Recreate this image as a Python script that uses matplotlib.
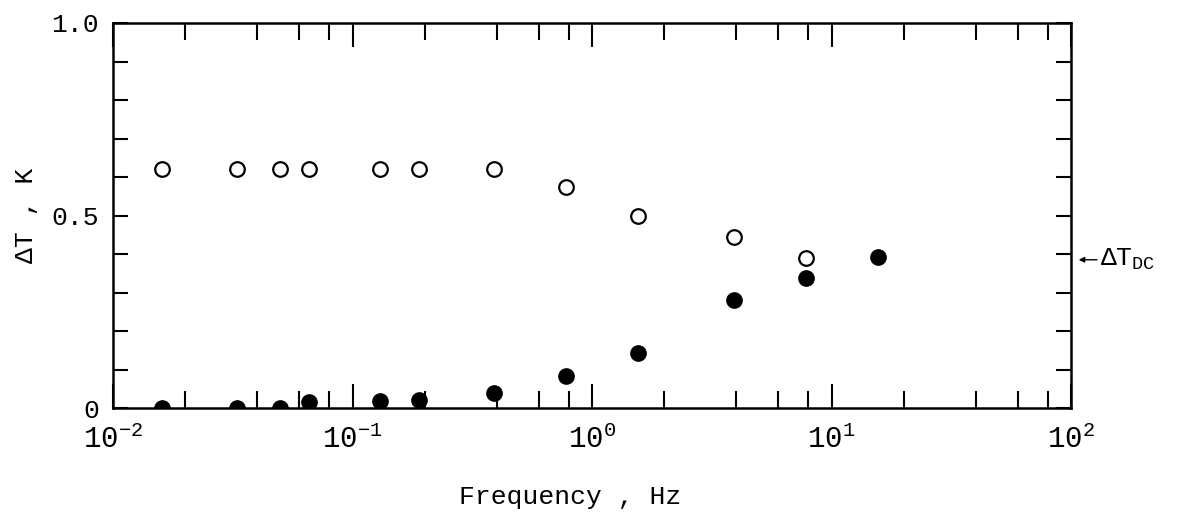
import matplotlib
matplotlib.use("Agg")
import matplotlib.pyplot as plt
from matplotlib.ticker import LogLocator, FixedLocator, NullFormatter, FixedFormatter

plt.rcParams['font.family'] = ['Liberation Mono', 'DejaVu Sans']
plt.rcParams['mathtext.fontset'] = 'custom'
plt.rcParams['mathtext.rm'] = 'Liberation Mono'
plt.rcParams['mathtext.it'] = 'Liberation Mono'

# frequencies (Hz)
freq = [0.016, 0.033, 0.05, 0.066, 0.13, 0.19, 0.39, 0.78, 1.56, 3.9, 7.8, 15.6]
# open circles (no value at the last frequency)
dT_open = [0.62, 0.62, 0.62, 0.62, 0.62, 0.62, 0.62, 0.575, 0.50, 0.445, 0.39]
# filled circles
dT_filled = [0.0, 0.0, 0.0, 0.015, 0.018, 0.02, 0.04, 0.083, 0.143, 0.281, 0.338, 0.392]
dT_dc = 0.385

xtick_vals = [1e-2, 1e-1, 1e0, 1e1, 1e2]
xtick_labels = ["10$^{-2}$", "10$^{-1}$", "10$^{0}$", "10$^{1}$", "10$^{2}$"]
ytick_vals = [0, 0.5, 1.0]
ytick_labels = ["0", "0.5", "1.0"]

fig = plt.figure(figsize=(11.94, 5.22), dpi=100)
ax = fig.add_axes([113/1194, 1 - 408/522, (1071-113)/1194, (408-23)/522])

ax.plot(freq[:len(dT_open)], dT_open, 'o', ms=10.5, mfc='white', mec='black', mew=1.6)
ax.plot(freq, dT_filled, 'o', ms=11, mfc='black', mec='black')

ax.set_xscale('log')
ax.set_xlim(1e-2, 1e2)
ax.set_ylim(0, 1.0)

ax.xaxis.set_major_locator(FixedLocator(xtick_vals))
ax.xaxis.set_major_formatter(FixedFormatter(xtick_labels))
ax.xaxis.set_minor_locator(LogLocator(base=10, subs=[2, 4, 6, 8]))
ax.xaxis.set_minor_formatter(NullFormatter())
ax.yaxis.set_major_locator(FixedLocator(ytick_vals))
ax.yaxis.set_major_formatter(FixedFormatter(ytick_labels))
ax.yaxis.set_minor_locator(FixedLocator([0.1, 0.2, 0.3, 0.4, 0.6, 0.7, 0.8, 0.9]))

ax.tick_params(axis='x', which='major', direction='in', length=17, width=1.5,
               top=True, bottom=True, labelsize=21, pad=12)
ax.tick_params(axis='x', which='minor', direction='in', length=12, width=1.5,
               top=True, bottom=True)
ax.tick_params(axis='y', which='both', direction='in', length=11, width=1.5,
               left=True, right=True, labelsize=19, pad=10)

for s in ax.spines.values():
    s.set_linewidth(1.8)

ax.set_ylabel("ΔT , K", fontsize=19, labelpad=10)
ax.set_xlabel("Frequency , Hz", fontsize=19, labelpad=14)
ax.xaxis.set_label_coords((570-113)/958, -0.2)

ax.annotate("ΔT$_{DC}$", xy=(1.008, dT_dc), xycoords=('axes fraction', 'data'),
            xytext=(1.03, dT_dc), textcoords=('axes fraction', 'data'),
            fontsize=19, va='center', ha='left',
            arrowprops=dict(arrowstyle='-|>', color='black', lw=1.0,
                            mutation_scale=8, shrinkA=0, shrinkB=0))

fig.savefig("out.png", dpi=100)
